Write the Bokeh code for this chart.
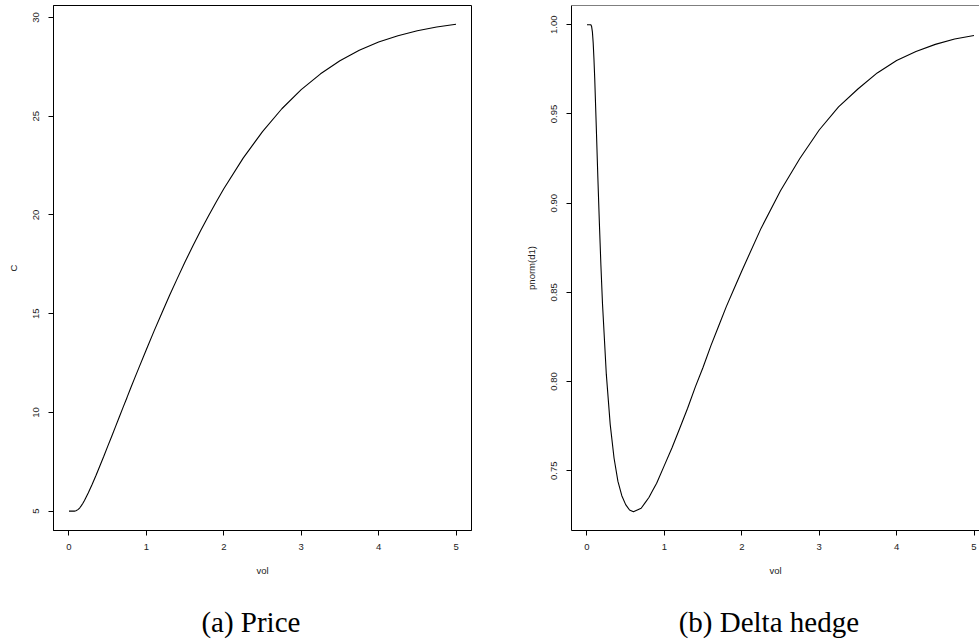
from bokeh.plotting import figure
from bokeh.models import Range1d, FixedTicker, PrintfTickFormatter, Span, LinearAxis
from bokeh.layouts import row
from bokeh.embed import file_html
from bokeh.resources import INLINE

# volatility grid (x)
vol = [0, 0.02, 0.04, 0.05, 0.06, 0.07, 0.08, 0.09, 0.10, 0.12, 0.14, 0.16, 0.18,
       0.20, 0.25, 0.30, 0.35, 0.40, 0.45, 0.50, 0.55, 0.60, 0.65, 0.70, 0.75, 0.80,
       0.85, 0.90, 1.0, 1.1, 1.2, 1.3, 1.4, 1.5, 1.6, 1.7, 1.8, 1.9, 2.0, 2.25, 2.5,
       2.75, 3.0, 3.25, 3.5, 3.75, 4.0, 4.25, 4.5, 4.75, 5.0]

# (a) Price: C
price = [5.00, 5.00, 5.00, 5.00, 5.00, 5.00, 5.01, 5.02, 5.04, 5.09, 5.17, 5.28, 5.40,
         5.54, 5.93, 6.36, 6.82, 7.30, 7.78, 8.28, 8.77, 9.27, 9.77, 10.27, 10.76, 11.26,
         11.75, 12.23, 13.19, 14.13, 15.04, 15.93, 16.79, 17.63, 18.43, 19.20, 19.94, 20.65, 21.33, 22.88, 24.22,
         25.38, 26.35, 27.15, 27.81, 28.34, 28.76, 29.08, 29.33, 29.52, 29.66]

# (b) Delta hedge: pnorm(d1)
delta = [1.000, 1.000, 1.000, 1.000, 0.999, 0.996, 0.990, 0.981, 0.970, 0.943, 0.915, 0.889, 0.865,
         0.844, 0.804, 0.776, 0.757, 0.744, 0.736, 0.731, 0.728, 0.727, 0.728, 0.729, 0.732, 0.735,
         0.739, 0.743, 0.753, 0.763, 0.774, 0.785, 0.797, 0.808, 0.820, 0.831, 0.842, 0.852, 0.862, 0.886, 0.907,
         0.925, 0.941, 0.954, 0.964, 0.973, 0.980, 0.985, 0.989, 0.992, 0.994]

vol_ticks = [0, 1, 2, 3, 4, 5]
price_ticks = [5, 10, 15, 20, 25, 30]
delta_ticks = [0.75, 0.80, 0.85, 0.90, 0.95, 1.00]

x_label = "vol"
price_label = "C"
delta_label = "pnorm(d1)"
captions = ["(a) Price", "(b) Delta hedge"]

SANS = "Liberation Sans"
SERIF = "Liberation Serif"
CAPTION_AT = 2.35   # horizontal centre of each sub-caption, in vol units


def style(p, yticks):
    p.xgrid.visible = False
    p.ygrid.visible = False
    p.background_fill_color = "white"
    p.border_fill_color = "white"
    for ax in (p.xaxis[0], p.yaxis[0]):
        ax.axis_line_color = "black"
        ax.axis_line_width = 1
        ax.major_tick_line_color = "black"
        ax.major_tick_in = 0
        ax.major_tick_out = 5
        ax.minor_tick_line_color = None
        ax.major_label_text_font = SANS
        ax.major_label_text_font_size = "9.5px"
        ax.major_label_text_color = "#222222"
        ax.axis_label_text_font = SANS
        ax.axis_label_text_font_size = "9.5px"
        ax.axis_label_text_font_style = "normal"
        ax.axis_label_text_color = "#222222"
    p.xaxis.ticker = FixedTicker(ticks=vol_ticks)
    p.yaxis.ticker = FixedTicker(ticks=yticks)
    p.yaxis.major_label_orientation = "vertical"
    p.xaxis.major_label_standoff = 8
    p.yaxis.major_label_standoff = 9
    p.xaxis.axis_label_standoff = 12
    p.yaxis.axis_label_standoff = 12


def add_caption(p, text):
    cap = LinearAxis(ticker=FixedTicker(ticks=[CAPTION_AT]),
                     major_label_overrides={CAPTION_AT: text},
                     axis_line_color=None, major_tick_line_color=None,
                     minor_tick_line_color=None, major_tick_in=0, major_tick_out=0,
                     major_label_standoff=27,
                     major_label_text_font=SERIF, major_label_text_font_size="29px",
                     major_label_text_color="black")
    p.add_layout(cap, "below")


p1 = figure(width=490, height=640, output_backend="svg", toolbar_location=None,
            x_range=Range1d(-0.2, 5.2), y_range=Range1d(4.02, 30.61),
            x_axis_label=x_label, y_axis_label=price_label,
            min_border_left=53, min_border_right=19, min_border_top=5, min_border_bottom=108)
p1.outline_line_color = "black"
p1.outline_line_width = 1
style(p1, price_ticks)
p1.line(vol, price, line_color="black", line_width=1.1)
add_caption(p1, captions[0])

d_top = 1.0108
p2 = figure(width=489, height=640, output_backend="svg", toolbar_location=None,
            x_range=Range1d(-0.2, 5.071), y_range=Range1d(0.7165, d_top),
            x_axis_label=x_label, y_axis_label=delta_label,
            min_border_left=81, min_border_right=0, min_border_top=5, min_border_bottom=108)
p2.outline_line_color = None
style(p2, delta_ticks)
p2.yaxis.formatter = PrintfTickFormatter(format="%.2f")
p2.add_layout(Span(location=d_top, dimension="width", line_color="black", line_width=1))
p2.line(vol, delta, line_color="black", line_width=1.1)
add_caption(p2, captions[1])

layout = row(p1, p2)
open("out.html", "w").write(file_html(layout, INLINE))
